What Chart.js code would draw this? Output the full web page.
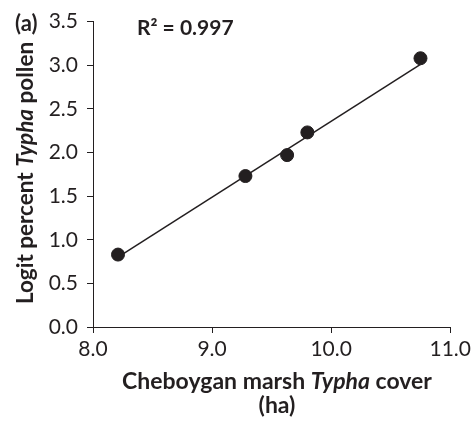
<!DOCTYPE html>
<html>
<head>
<meta charset="utf-8">
<script src="https://cdn.jsdelivr.net/npm/chart.js@4.4.1/dist/chart.umd.min.js"></script>
<style>
  html, body { margin: 0; padding: 0; background: #fff; }
  #wrap { position: relative; width: 475px; height: 422px; }
</style>
</head>
<body>
<div id="wrap"><canvas id="chart" width="475" height="422"></canvas></div>
<script>
// values
const coverHa = [8.21, 9.28, 9.63, 9.80, 10.75];
const logitPollen = [0.83, 1.73, 1.97, 2.23, 3.08];
const fitX = [8.21, 10.75];
const fitY = [0.80, 3.01];
const xTicks = [8.0, 9.0, 10.0, 11.0];
const yTicks = [0.0, 0.5, 1.0, 1.5, 2.0, 2.5, 3.0, 3.5];

const INK = "#231f20";
const FONT = "Lato, 'Open Sans', sans-serif";

// draws a line of text made of pieces with their own style, centred on (cx, cy)
function mixedText(ctx, parts, cx, cy) {
  let total = 0;
  parts.forEach(p => { ctx.font = p.font; total += ctx.measureText(p.t).width; });
  let x = cx - total / 2;
  parts.forEach(p => {
    ctx.font = p.font;
    ctx.fillText(p.t, x, cy);
    x += ctx.measureText(p.t).width;
  });
}

const labelsPlugin = {
  id: "labels",
  afterDraw(chart) {
    const ctx = chart.ctx;
    const bold = "bold 23px " + FONT;
    const boldIt = "italic bold 23px " + FONT;
    const boldY = "bold 22.5px " + FONT;
    const boldItY = "italic bold 22.5px " + FONT;
    ctx.save();
    ctx.fillStyle = INK;
    ctx.textBaseline = "middle";
    ctx.textAlign = "left";

    mixedText(ctx, [{ t: "Cheboygan marsh ", font: bold }, { t: "Typha", font: boldIt }, { t: " cover", font: bold }], 277, 382);
    mixedText(ctx, [{ t: "(ha)", font: bold }], 277, 406);

    ctx.save();
    ctx.translate(26, 173);
    ctx.rotate(-Math.PI / 2);
    mixedText(ctx, [{ t: "Logit percent ", font: boldY }, { t: "Typha", font: boldItY }, { t: " pollen", font: boldY }], 0, 0);
    ctx.restore();

    ctx.font = "bold 22px " + FONT;
    ctx.fillText("(a)", 15, 24);
    ctx.font = "bold 21px " + FONT;
    ctx.fillText("R\u00B2 = 0.997", 137, 28);
    ctx.restore();
  }
};

new Chart(document.getElementById("chart"), {
  type: "scatter",
  data: {
    datasets: [
      {
        label: "fit",
        type: "line",
        data: fitX.map((x, i) => ({ x: x, y: fitY[i] })),
        borderColor: INK,
        borderWidth: 1.5,
        pointRadius: 0,
        fill: false,
        order: 2
      },
      {
        label: "observed",
        data: coverHa.map((x, i) => ({ x: x, y: logitPollen[i] })),
        backgroundColor: INK,
        borderColor: INK,
        pointRadius: 6.5,
        order: 1
      }
    ]
  },
  options: {
    responsive: false,
    animation: false,
    layout: { padding: { left: 0, top: 15, right: 24, bottom: 0 } },
    plugins: { legend: { display: false }, tooltip: { enabled: false } },
    scales: {
      x: {
        type: "linear",
        min: 8,
        max: 11,
        afterBuildTicks(scale) { scale.ticks = xTicks.map(v => ({ value: v })); },
        afterFit(scale) { scale.height = 95; },
        grid: { display: true, drawOnChartArea: false, drawTicks: true, tickLength: 6, tickColor: INK, color: INK },
        border: { color: INK, width: 1 },
        ticks: {
          color: INK,
          font: { family: FONT, size: 21 },
          padding: 4,
          maxRotation: 0,
          callback: v => v.toFixed(1)
        }
      },
      y: {
        min: 0,
        max: 3.5,
        afterBuildTicks(scale) { scale.ticks = yTicks.map(v => ({ value: v })); },
        afterFit(scale) { scale.width = 93; },
        grid: { display: true, drawOnChartArea: false, drawTicks: true, tickLength: 6, tickColor: INK, color: INK },
        border: { color: INK, width: 1 },
        ticks: {
          color: INK,
          font: { family: FONT, size: 21 },
          padding: 9,
          callback: v => v.toFixed(1)
        }
      }
    }
  },
  plugins: [labelsPlugin]
});
</script>
</body>
</html>
